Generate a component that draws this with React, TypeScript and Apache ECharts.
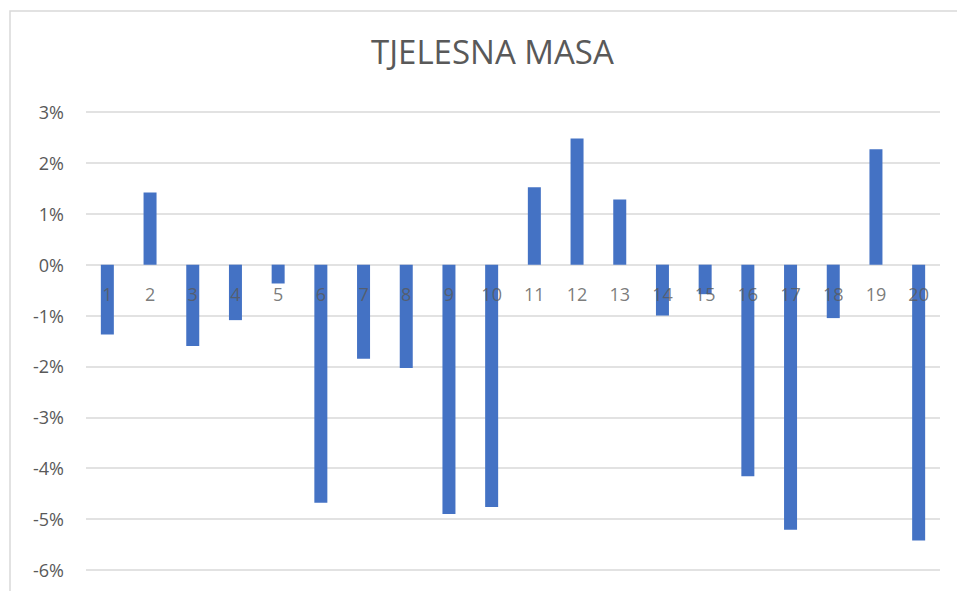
import React, { useEffect, useRef } from "react";
import * as echarts from "echarts";

const categories = ["1","2","3","4","5","6","7","8","9","10","11","12","13","14","15","16","17","18","19","20"];
const values = [-1.37, 1.42, -1.6, -1.09, -0.37, -4.68, -1.85, -2.03, -4.9, -4.76, 1.52, 2.48, 1.28, -1.0, -0.58, -4.16, -5.21, -1.05, 2.27, -5.42];
const title = "TJELESNA MASA";

export default function App() {
  const ref = useRef<HTMLDivElement>(null);
  useEffect(() => {
    if (!ref.current) return;
    const chart = echarts.init(ref.current, null, { renderer: "svg" });
    chart.setOption({
      animation: false,
      backgroundColor: "#ffffff",
      textStyle: { fontFamily: "Open Sans" },
      graphic: [
        {
          type: "rect",
          shape: { x: 10, y: 11, width: 980, height: 620 },
          style: { fill: "none", stroke: "#d9d9d9", lineWidth: 1.5 },
          silent: true,
        },
      ],
      title: {
        text: title,
        left: 366,
        top: 30,
        textStyle: { fontFamily: "Open Sans", fontWeight: "normal", fontSize: 33, color: "#595959" },
      },
      grid: { left: 86, right: 17, top: 112, bottom: 21, containLabel: false, outerBoundsMode: "none" },
      xAxis: {
        type: "category",
        data: categories,
        axisLine: { show: false },
        axisTick: { show: false },
        axisLabel: { show: false },
      },
      yAxis: {
        type: "value",
        min: -6,
        max: 3,
        interval: 1,
        axisLine: { show: false },
        axisTick: { show: false },
        axisLabel: { color: "#595959", fontSize: 18, margin: 22, formatter: (v: number) => `${v}%` },
        splitLine: { lineStyle: { color: "#d9d9d9", width: 1.5 } },
      },
      series: [
        {
          type: "bar",
          data: values,
          barWidth: 13,
          itemStyle: { color: "#4472c4" },
          z: 2,
        },
        {
          type: "scatter",
          data: categories.map((c) => [c, 0]),
          symbolSize: 0,
          z: 5,
          silent: true,
          label: {
            show: true,
            position: "bottom",
            distance: 20,
            formatter: (p: any) => p.name || p.value[0],
            color: "#595959",
            fontSize: 18,
            fontFamily: "Open Sans",
          },
        },
      ],
    });
    return () => chart.dispose();
  }, []);
  return <div ref={ref} style={{ width: 957, height: 591, position: "absolute", left: 0, top: 0 }} />;
}
